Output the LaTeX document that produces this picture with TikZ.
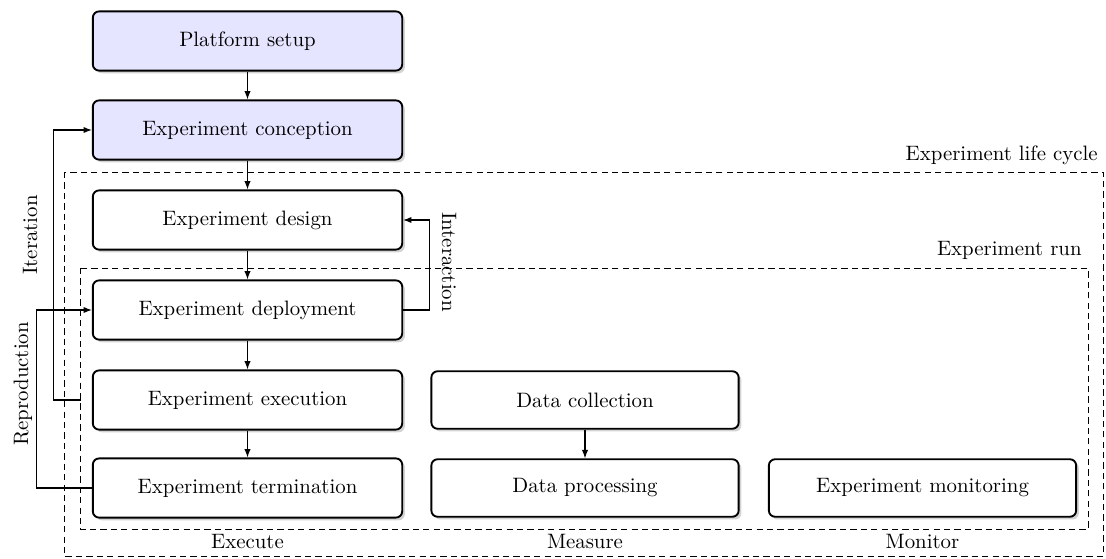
\documentclass[tikz,border=0pt]{standalone}
\usetikzlibrary{arrows.meta,shadows}
\begin{document}
\begin{tikzpicture}[x=0.48pt,y=-0.48pt,
  stage/.style={draw, line width=0.9pt, rounded corners=3pt, fill=white,
    minimum width=148.5pt, minimum height=28.4pt, inner sep=2pt,
    drop shadow={shadow xshift=1.3pt, shadow yshift=-1.3pt, opacity=0.35}},
  prep/.style={stage, fill=blue!10},
  measurebox/.style={stage, minimum width=147.5pt, minimum height=27.6pt},
  flow/.style={-{Latex[length=4pt,width=3pt]}, line width=0.5pt},
  region/.style={dash pattern=on 3pt off 2pt, line width=0.4pt},
  caption/.style={inner sep=0pt}]
\useasboundingbox (0,0) rectangle (1106,558);

% nested regions
\coordinate (lifeNW) at (64,172);
\coordinate (lifeSE) at (1103,556);
\coordinate (runNW) at (80.5,268);
\coordinate (runSE) at (1088,529.5);
\draw[region] (lifeNW) rectangle (lifeSE);
\draw[region] (runNW) rectangle (runSE);
\node[caption, anchor=base east] (lifelbl) at (1098,160) {Experiment life cycle};
\node[caption, anchor=base east] (runlbl) at (1082,255) {Experiment run};

% stages
\node[prep] (setup) at (247.5,41) {Platform setup};
\node[prep] (conception) at (247.5,130) {Experiment conception};
\node[stage] (design) at (247.5,220) {Experiment design};
\node[stage] (deploy) at (247.5,310) {Experiment deployment};
\node[stage] (exec) at (247.5,400) {Experiment execution};
\node[stage] (term) at (247.5,488) {Experiment termination};
\node[measurebox] (collect) at (585,400) {Data collection};
\node[measurebox] (process) at (585,488) {Data processing};
\node[measurebox] (monitor) at (922.5,488) {Experiment monitoring};

% column captions
\node[caption, anchor=base] (execlbl) at (247.5,548) {Execute};
\node[caption, anchor=base] (measlbl) at (585,548) {Measure};
\node[caption, anchor=base] (monlbl) at (922.5,548) {Monitor};

% main flow
\draw[flow] (setup) -- (conception);
\draw[flow] (conception) -- (design);
\draw[flow] (design) -- (deploy);
\draw[flow] (deploy) -- (exec);
\draw[flow] (exec) -- (term);
\draw[flow] (collect) -- (process);

% feedback loops
\coordinate (itstart) at (exec.west -| runNW);
\draw[flow] (itstart) -- ++(-27,0) |- (conception.west);
\draw[flow] (term.west) -- ++(-55,0) |- (deploy.west);
\draw[flow] (deploy.east) -- ++(26,0) |- (design.east);

\node[caption, rotate=90, anchor=base] (itlbl) at (37,235) {Iteration};
\node[caption, rotate=90, anchor=base] (replbl) at (28,384) {Reproduction};
\node[caption, rotate=-90, anchor=base] (intlbl) at (442,262) {Interaction};
\end{tikzpicture}
\end{document}
